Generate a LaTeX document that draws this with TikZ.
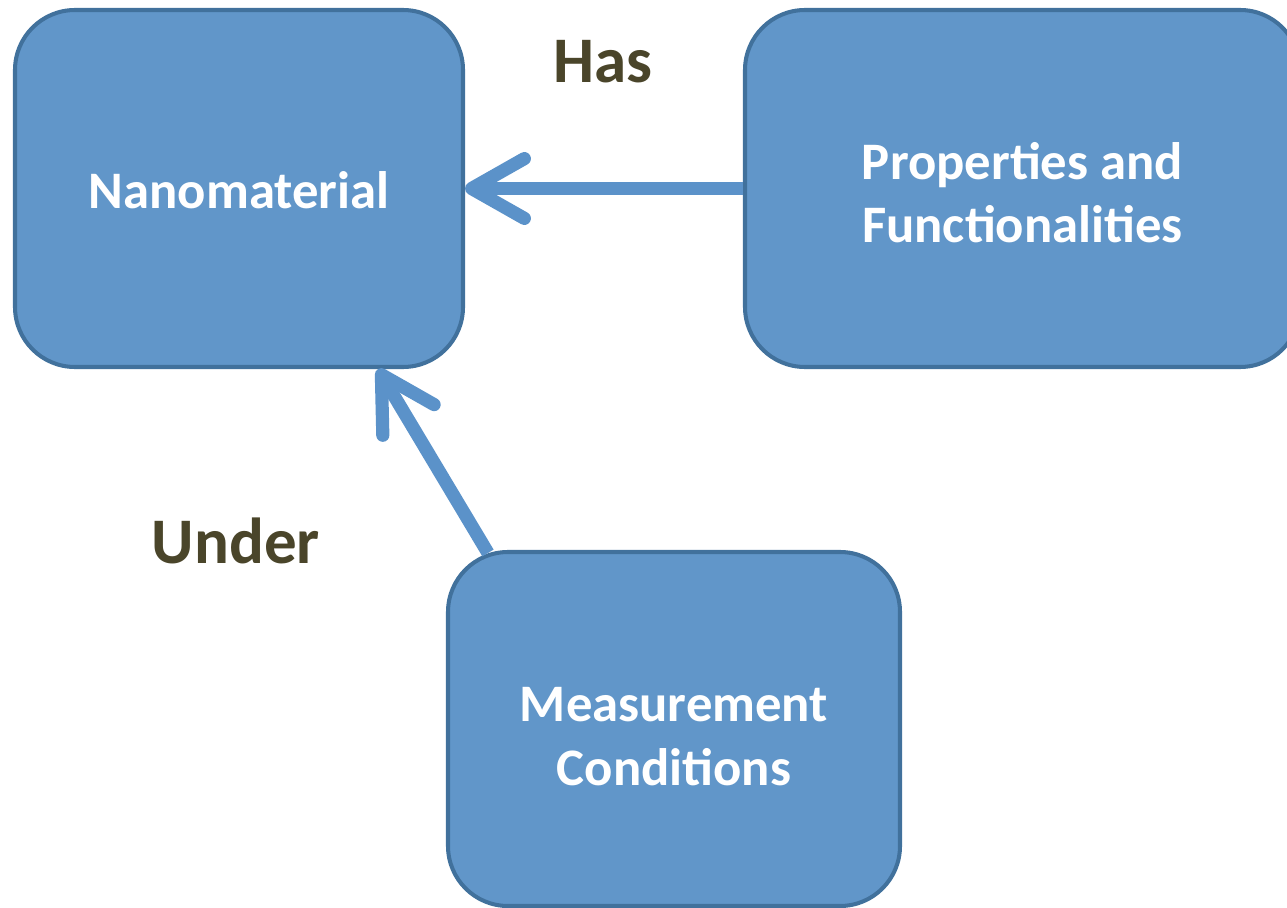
\documentclass[tikz,border=0pt]{standalone}
\usepackage{fontspec}
\setmainfont{Carlito}
\usetikzlibrary{arrows.meta, positioning, calc}
\definecolor{boxfill}{RGB}{97,150,201}
\definecolor{boxline}{RGB}{65,113,156}
\definecolor{arrowblue}{RGB}{91,146,201}
\definecolor{lblcol}{RGB}{74,69,42}
\newcommand{\boxtext}[2][4pt]{\raisebox{0pt}[\dimexpr\height+#1*2\relax]{\begin{tabular}{@{}c@{}}#2\end{tabular}}}

\begin{document}
\begin{tikzpicture}[
  >={Straight Barb[length=30pt,width=34pt,round]},
  box/.style={draw=boxline, fill=boxfill, line width=2.3pt, rounded corners=1.2cm,
              align=center, text=white, font=\fontsize{30}{36}\selectfont\bfseries,
              inner sep=0pt},
  link/.style={->, draw=arrowblue, line width=7.5pt},
  lbl/.style={text=lblcol, font=\fontsize{37}{44}\selectfont\bfseries}
]
\useasboundingbox (0,0) rectangle (25.74,-18.16);

\node[box, minimum width=8.96cm, minimum height=7.14cm] (nano) at (4.78,-3.77) {\boxtext[4pt]{Nanomaterial}};
\node[box, minimum width=11.1cm, minimum height=7.14cm] (prop) at (20.45,-3.77) {\boxtext[5.7pt]{Properties and\\Functionalities}};
\node[box, minimum width=9.04cm, minimum height=7.08cm] (meas) at (13.48,-14.58) {\boxtext[6.8pt]{Measurement\\Conditions}};

\node[lbl] (has) at (12.06,-1.24) {Has};
\node[lbl] (under) at (4.72,-10.82) {Under};

\draw[link] (prop) -- (nano);
\draw[link] ($(meas.north west)+(0.84,-0.06)$) -- ($(nano.south east)+(-1.74,0)$);
\end{tikzpicture}
\end{document}
